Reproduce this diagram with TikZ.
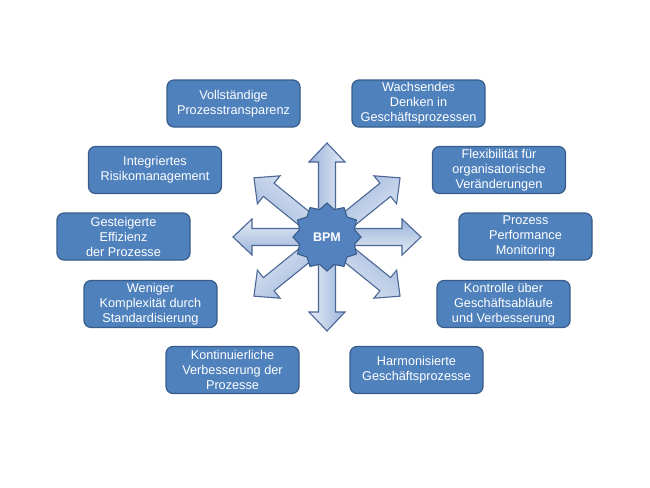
\documentclass[tikz,border=0pt]{standalone}
\usepackage{fontspec}
\setmainfont{Liberation Sans}
\usetikzlibrary{calc,shapes.geometric}
\definecolor{boxfill}{RGB}{79,129,189}
\definecolor{boxline}{RGB}{56,93,138}
\definecolor{arrline}{RGB}{74,103,150}
\definecolor{arrdark}{RGB}{155,180,218}
\definecolor{arrlight}{RGB}{228,235,245}
\definecolor{starfill}{RGB}{84,130,190}
\tikzset{
  infobox/.style={draw=boxline, fill=boxfill, line width=1.2pt, rounded corners=7pt,
    minimum width=133pt, minimum height=47pt, inner sep=0pt, align=center,
    text=white, font=\fontsize{12.7}{15}\selectfont},
  bigarrow/.style={draw=arrline, line width=1.1pt, left color=arrdark, right color=arrlight, line join=miter},
  bpmstar/.style={star, star points=12, star point ratio=1.2, minimum size=68pt, inner sep=0pt,
    draw=boxline, fill=starfill, line width=1.1pt, text=white, font=\fontsize{12.5}{14}\selectfont\bfseries}
}
\begin{document}
\begin{tikzpicture}[x=1pt,y=-1pt]
\useasboundingbox (0,0) rectangle (650,487);
\fill[white] (0,0) rectangle (650,487);
\coordinate (c) at (327,237);
\foreach \a in {0,39,90,141,180,219,270,321} {
  \shadedraw[bigarrow, shading angle=-\a]
    ($(c)+(\a+90:8.5)$) -- ($(c)+(\a:75)+(\a+90:8.5)$) -- ($(c)+(\a:75)+(\a+90:18)$)
    -- ($(c)+(\a:94)$) -- ($(c)+(\a:75)+(\a-90:18)$) -- ($(c)+(\a:75)+(\a-90:8.5)$)
    -- ($(c)+(\a-90:8.5)$) -- cycle;
}
\node[bpmstar] (bpm) at (c) {BPM};
\node[infobox] (b1) at (233.5,103.5) {Vollständige\\Prozesstransparenz};
\node[infobox] (b2) at (418.5,103.5) {Wachsendes\\Denken in\\Geschäftsprozessen};
\node[infobox] (b3) at (155,170) {Integriertes\\Risikomanagement};
\node[infobox] (b4) at (499,170) {Flexibilität für\\organisatorische\\Veränderungen};
\node[infobox] (b5) at (123.5,236.5) {Gesteigerte\\Effizienz\\der Prozesse};
\node[infobox] (b6) at (525.5,236.5) {Prozess\\Performance\\Monitoring};
\node[infobox] (b7) at (150.5,304) {Weniger\\Komplexität durch\\Standardisierung};
\node[infobox] (b8) at (503.5,304) {Kontrolle über\\Geschäftsabläufe\\und Verbesserung};
\node[infobox] (b9) at (232.5,370) {Kontinuierliche\\Verbesserung der\\Prozesse};
\node[infobox] (b10) at (416.5,370) {Harmonisierte\\Geschäftsprozesse};
\end{tikzpicture}
\end{document}
